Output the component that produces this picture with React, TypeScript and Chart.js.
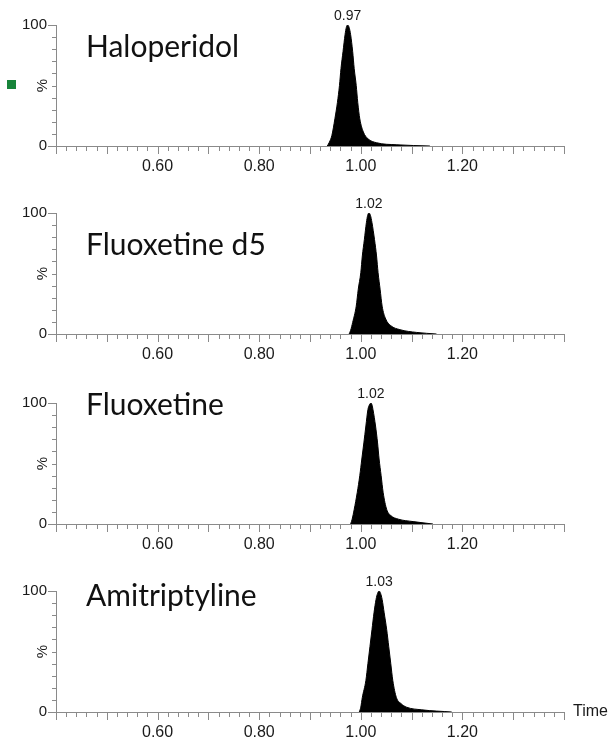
import React, { useEffect, useRef } from 'react';
import { Chart, registerables } from 'chart.js';

Chart.register(...registerables);

// ---------- data ----------
const COMPOUNDS = ['Haloperidol', 'Fluoxetine d5', 'Fluoxetine', 'Amitriptyline'];
const PEAK_LABELS = ['0.97', '1.02', '1.02', '1.03'];
const X_TICK_VALUES = [0.6, 0.8, 1.0, 1.2];
const X_TICK_LABELS = ['0.60', '0.80', '1.00', '1.20'];
const Y_TICK_VALUES = [0, 100];
const Y_TICK_LABELS = ['0', '100'];
const X_MIN = 0.4;
const X_MAX = 1.4;

const HALO_T = [0.934, 0.938, 0.943, 0.949, 0.954, 0.958, 0.961, 0.965, 0.969, 0.9715, 0.974, 0.977, 0.980, 0.984, 0.987, 0.991, 0.994, 0.998, 1.005, 1.014, 1.031, 1.071, 1.136];
const HALO_I = [0, 3, 8.6, 22.5, 36, 50, 64, 78, 92, 98, 100, 98, 92, 78, 64, 50, 36, 22.5, 11.6, 6, 2.7, 1, 0];

const FLUD5_T = [0.977, 0.980, 0.984, 0.991, 0.995, 1.000, 1.003, 1.007, 1.011, 1.0135, 1.016, 1.019, 1.022, 1.027, 1.031, 1.034, 1.038, 1.042, 1.049, 1.059, 1.077, 1.110, 1.149];
const FLUD5_I = [0, 3, 9.6, 23, 37, 50.7, 64.5, 78, 92, 98, 100, 98, 92, 78, 64.5, 50.7, 37, 23, 12.4, 6.9, 3.6, 1.3, 0];

const FLU_T = [0.980, 0.983, 0.987, 0.993, 0.998, 1.002, 1.006, 1.010, 1.014, 1.017, 1.020, 1.022, 1.024, 1.029, 1.033, 1.036, 1.040, 1.044, 1.051, 1.059, 1.074, 1.103, 1.142];
const FLU_I = [0, 4, 12, 26, 40, 53.7, 67, 81, 94.5, 98.5, 100, 98.5, 94.5, 81, 67, 53.7, 40, 26, 12, 7, 4, 2, 0];

const AMI_T = [0.997, 1.000, 1.003, 1.010, 1.014, 1.018, 1.022, 1.026, 1.030, 1.033, 1.036, 1.039, 1.042, 1.046, 1.051, 1.055, 1.059, 1.063, 1.070, 1.079, 1.090, 1.120, 1.179];
const AMI_I = [0, 4, 12, 26, 40, 54, 68, 82, 93, 98, 100, 98, 93, 82, 68, 54, 40, 26, 12, 7, 4, 1.8, 0];

const SERIES_T = [HALO_T, FLUD5_T, FLU_T, AMI_T];
const SERIES_I = [HALO_I, FLUD5_I, FLU_I, AMI_I];

// ---------- layout ----------
const PANEL_TOPS = [0, 188, 378, 566];
const PANEL_HEIGHTS = [188, 188, 188, 179];
const NAME_BASELINES = [57, 67, 37, 40];
const CHART_TOP = 25;
const CHART_BOTTOM = 146;
const AXIS_LEFT = 56;
const CHART_RIGHT = 564;
const AXIS_COLOR = '#8a8a8a';
const TEXT_COLOR = '#1a1a1a';

const decorPlugin = {
  id: 'decor',
  afterDraw(chart: any, _args: any, opts: any) {
    const { ctx, chartArea, scales } = chart;
    const xs = scales.x;
    const ys = scales.y;
    ctx.save();
    ctx.strokeStyle = AXIS_COLOR;
    ctx.lineWidth = 1;
    // x tick marks (minor every 0.02, major every 0.1)
    for (let k = 0; k <= 50; k++) {
      const v = X_MIN + k * 0.02;
      const px = Math.round(xs.getPixelForValue(v)) + 0.5;
      const major = k % 5 === 0;
      ctx.beginPath();
      ctx.moveTo(px, chartArea.bottom);
      ctx.lineTo(px, chartArea.bottom + (major ? 8 : 5));
      ctx.stroke();
    }
    // y tick marks
    for (let k = 0; k <= 10; k++) {
      const v = k * 10;
      const py = Math.round(ys.getPixelForValue(v)) + 0.5;
      const len = k === 0 || k === 10 ? 8 : 4;
      ctx.beginPath();
      ctx.moveTo(chartArea.left, py);
      ctx.lineTo(chartArea.left - len, py);
      ctx.stroke();
    }
    // % label
    ctx.fillStyle = TEXT_COLOR;
    ctx.font = '15px "Liberation Sans", Arial, sans-serif';
    ctx.textAlign = 'center';
    ctx.textBaseline = 'middle';
    ctx.save();
    ctx.translate(chartArea.left - 13, (chartArea.top + chartArea.bottom) / 2);
    ctx.rotate(-Math.PI / 2);
    ctx.fillText('%', 0, 0);
    ctx.restore();
    // compound name
    ctx.font = '30px Lato, "Open Sans", sans-serif';
    ctx.textAlign = 'left';
    ctx.textBaseline = 'alphabetic';
    ctx.fillStyle = '#111';
    ctx.fillText(opts.name, chartArea.left + 30, opts.nameBaseline);
    // peak label
    const data = chart.data.datasets[0].data as { x: number; y: number }[];
    let mi = 0;
    data.forEach((d, i) => { if (d.y > data[mi].y) mi = i; });
    const pxp = xs.getPixelForValue(data[mi].x);
    const pyp = ys.getPixelForValue(data[mi].y);
    ctx.font = '14px "Liberation Sans", Arial, sans-serif';
    ctx.textAlign = 'center';
    ctx.fillStyle = TEXT_COLOR;
    ctx.fillText(opts.peakLabel, pxp, pyp - 5);
    // Time label
    if (opts.showTime) {
      ctx.font = '16px "Liberation Sans", Arial, sans-serif';
      ctx.textAlign = 'left';
      ctx.textBaseline = 'middle';
      ctx.fillText('Time', chartArea.right + 9, chartArea.bottom);
    }
    if (opts.showSquare) {
      ctx.fillStyle = '#17843a';
      ctx.fillRect(7, 80, 9, 9);
    }
    ctx.restore();
  },
};

function Panel({ idx }: { idx: number }) {
  const ref = useRef<HTMLCanvasElement>(null);
  const height = PANEL_HEIGHTS[idx];
  useEffect(() => {
    const ts = SERIES_T[idx];
    const is = SERIES_I[idx];
    const points = ts.map((t, i) => ({ x: t, y: is[i] }));
    const chart = new Chart(ref.current as HTMLCanvasElement, {
      type: 'line',
      data: {
        datasets: [
          {
            data: points,
            borderColor: '#000',
            backgroundColor: '#000',
            borderWidth: 1,
            pointRadius: 0,
            fill: 'origin',
            cubicInterpolationMode: 'monotone',
          },
        ],
      },
      options: {
        animation: false,
        responsive: false,
        maintainAspectRatio: false,
        events: [],
        layout: {
          padding: { left: 0, right: 612 - CHART_RIGHT, top: CHART_TOP, bottom: 0 },
        },
        plugins: {
          legend: { display: false },
          tooltip: { enabled: false },
          decor: {
            name: COMPOUNDS[idx],
            nameBaseline: NAME_BASELINES[idx],
            peakLabel: PEAK_LABELS[idx],
            showTime: idx === 3,
            showSquare: idx === 0,
          },
        } as any,
        scales: {
          x: {
            type: 'linear',
            min: X_MIN,
            max: X_MAX,
            afterBuildTicks: (scale: any) => {
              scale.ticks = X_TICK_VALUES.map((v) => ({ value: v }));
            },
            afterFit: (scale: any) => {
              scale.height = height - CHART_BOTTOM;
            },
            ticks: {
              autoSkip: false,
              maxRotation: 0,
              padding: 11,
              color: TEXT_COLOR,
              font: { family: '"Liberation Sans", Arial, sans-serif', size: 16 },
              callback: (v: any) => {
                const i = X_TICK_VALUES.findIndex((t) => Math.abs(t - Number(v)) < 1e-6);
                return i >= 0 ? X_TICK_LABELS[i] : '';
              },
            },
            grid: { display: false, drawTicks: false },
            border: { display: true, color: AXIS_COLOR, width: 1 },
          },
          y: {
            type: 'linear',
            min: 0,
            max: 100,
            afterBuildTicks: (scale: any) => {
              scale.ticks = Y_TICK_VALUES.map((v) => ({ value: v }));
            },
            afterFit: (scale: any) => {
              scale.width = AXIS_LEFT;
            },
            ticks: {
              autoSkip: false,
              padding: 9,
              color: TEXT_COLOR,
              font: { family: '"Liberation Sans", Arial, sans-serif', size: 15 },
              callback: (v: any) => {
                const i = Y_TICK_VALUES.findIndex((t) => Math.abs(t - Number(v)) < 1e-6);
                return i >= 0 ? Y_TICK_LABELS[i] : '';
              },
            },
            grid: { display: false, drawTicks: false },
            border: { display: true, color: AXIS_COLOR, width: 1 },
          },
        },
      },
      plugins: [decorPlugin],
    });
    return () => chart.destroy();
  }, [idx, height]);
  return (
    <canvas
      ref={ref}
      width={612}
      height={height}
      style={{ position: 'absolute', left: 0, top: PANEL_TOPS[idx], width: 612, height, display: 'block' }}
    />
  );
}

export default function App() {
  return (
    <div style={{ position: 'absolute', left: 0, top: 0, width: 612, height: 745, overflow: 'hidden', background: '#fff' }}>
      {COMPOUNDS.map((_, i) => (
        <Panel key={i} idx={i} />
      ))}
    </div>
  );
}
